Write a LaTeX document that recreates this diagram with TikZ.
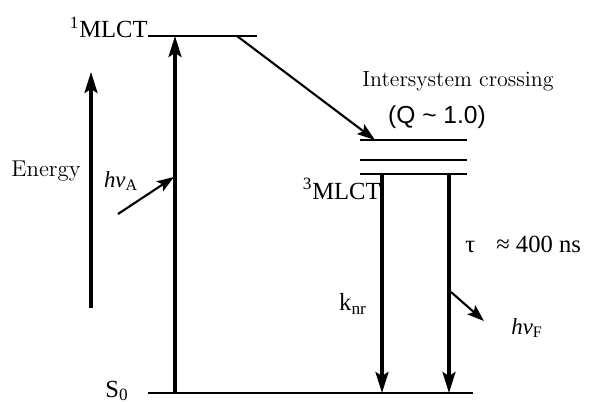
\documentclass[tikz,border=0pt]{standalone}
\usepackage{fontspec}
\newfontfamily\timesfont{Liberation Serif}
\newfontfamily\arialfont{Liberation Sans}
\usetikzlibrary{arrows.meta,positioning}

\begin{document}
\begin{tikzpicture}[
  x=0.02cm, y=-0.02cm,
  level/.style={line width=1pt},
  trans/.style={-{Stealth[length=4.2mm, width=2.6mm, inset=0.8mm]}, line width=1.9pt},
  isc/.style={-{Stealth[length=3.6mm, width=2.4mm, inset=0.7mm]}, line width=1.2pt},
  photon/.style={-{Stealth[length=3.4mm, width=2.4mm, inset=0.7mm]}, line width=1.2pt},
  tlbl/.style={font=\timesfont\fontsize{14}{16}\selectfont, inner sep=0pt},
  cmlbl/.style={font=\fontsize{12.5}{14}\selectfont, inner sep=0pt},
]
  \useasboundingbox (0,0) rectangle (595,402);

  % Levels
  \coordinate (s1l) at (148,36);  \coordinate (s1r) at (257,36);
  \coordinate (s0l) at (148,393); \coordinate (s0r) at (473,393);
  \coordinate (t1l) at (360,140); \coordinate (t1r) at (467,140);
  \coordinate (t2l) at (360,160); \coordinate (t2r) at (467,160);
  \coordinate (t3l) at (360,174); \coordinate (t3r) at (467,174);
  \draw[level] (s1l) -- (s1r);
  \draw[level] (s0l) -- (s0r);
  \draw[level] (t1l) -- (t1r);
  \draw[level] (t2l) -- (t2r);
  \draw[level] (t3l) -- (t3r);

  % Level labels
  \node[tlbl, anchor=base east] (mlct1) at (148,38) {\textsuperscript{1}MLCT};
  \node[tlbl, anchor=base east] (mlct3) at (381,199) {\textsuperscript{3}MLCT};
  \node[tlbl, anchor=base east] (s0) at (129,397) {S\textsubscript{0}};

  % Energy axis
  \coordinate (ebot) at (91,308); \coordinate (etop) at (91,72);
  \draw[trans] (ebot) -- (etop);
  \node[cmlbl, font=\fontsize{13}{15}\selectfont, anchor=east] (energy) at (81,171) {Energy};

  % Absorption
  \coordinate (absbot) at (175,393); \coordinate (abstop) at (175,36);
  \draw[trans] (absbot) -- (abstop);
  \coordinate (hva0) at (118,214); \coordinate (hva1) at (174,177);
  \draw[photon] (hva0) -- (hva1);
  \node[tlbl, font=\timesfont\fontsize{13}{15}\selectfont] (hva) at (121,181) {\textit{hν}\textsubscript{A}};

  % Intersystem crossing
  \coordinate (iscs) at (237,36); \coordinate (isce) at (375,140);
  \draw[isc] (iscs) -- (isce);
  \node[cmlbl] (isclbl) at (458,81) {Intersystem crossing};
  \node[font=\arialfont\fontsize{14}{16}\selectfont, inner sep=0pt] (q) at (437,117) {(Q \textasciitilde{} 1.0)};

  % Decay
  \coordinate (nrtop) at (382,174); \coordinate (nrbot) at (382,393);
  \coordinate (rtop) at (449,174);  \coordinate (rbot) at (449,393);
  \draw[trans] (nrtop) -- (nrbot);
  \draw[trans] (rtop) -- (rbot);
  \node[tlbl] (knr) at (353,304) {k\textsubscript{nr}};
  \node[tlbl, anchor=west] (tau) at (465,244) {τ\hspace{12pt}≈ 400 ns};
  \coordinate (hvf0) at (451,292); \coordinate (hvf1) at (484,321);
  \draw[photon] (hvf0) -- (hvf1);
  \node[tlbl, font=\timesfont\fontsize{13}{15}\selectfont] (hvf) at (527,328) {\textit{hν}\textsubscript{F}};
\end{tikzpicture}
\end{document}
